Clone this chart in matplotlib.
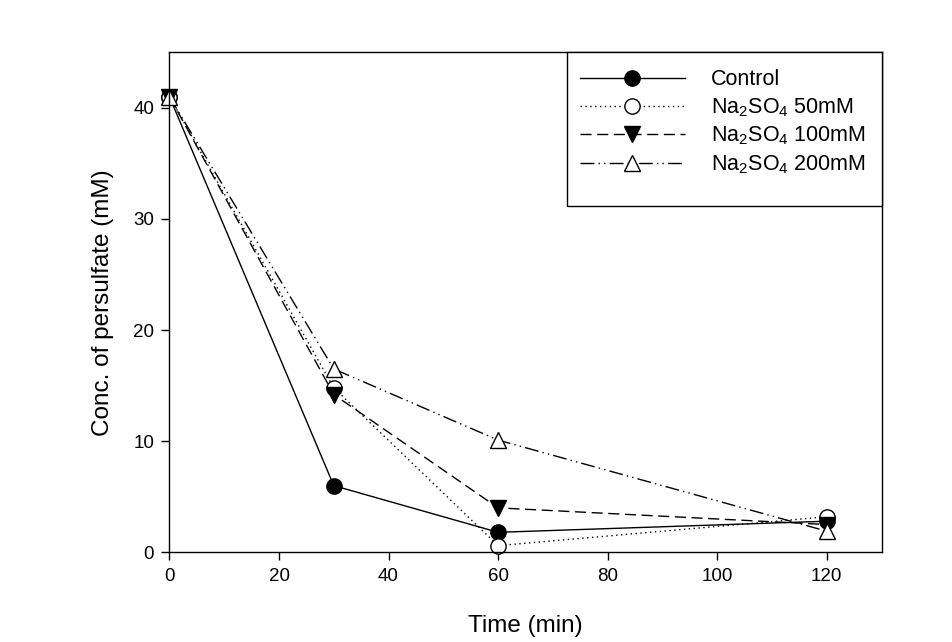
import matplotlib
matplotlib.use("Agg")
import matplotlib.pyplot as plt
from matplotlib.patches import Rectangle

plt.rcParams['font.family'] = ['Liberation Sans', 'DejaVu Sans']
plt.rcParams['mathtext.default'] = 'regular'

# Sampling times (min)
time = [0, 30, 60, 120]

# Persulfate concentration (mM)
control = [41.0, 6.0, 1.8, 2.8]
na2so4_50 = [41.0, 14.8, 0.6, 3.2]
na2so4_100 = [41.0, 14.2, 4.0, 2.5]
na2so4_200 = [41.0, 16.5, 10.1, 1.9]

labels = ['Control', 'Na$_2$SO$_4$ 50mM', 'Na$_2$SO$_4$ 100mM', 'Na$_2$SO$_4$ 200mM']

fig = plt.figure(figsize=(9.52, 6.42), dpi=100)
ax = fig.add_axes([0.178, 0.1397, 0.748, 0.7788])

ms = 11
ax.plot(time, control, color='black', lw=1.0, ls='-', marker='o', ms=ms,
        mfc='black', mec='black', label=labels[0], clip_on=False)
ax.plot(time, na2so4_50, color='black', lw=1.0, ls=(0, (1, 2.5)), marker='o', ms=ms,
        mfc='white', mec='black', label=labels[1], clip_on=False)
ax.plot(time, na2so4_100, color='black', lw=1.0, ls=(0, (8, 4)), marker='v', ms=ms,
        mfc='black', mec='black', label=labels[2], clip_on=False)
ax.plot(time, na2so4_200, color='black', lw=1.0, ls=(0, (10, 3, 1, 3, 1, 3)), marker='^', ms=ms,
        mfc='white', mec='black', label=labels[3], clip_on=False)

ax.set_xlim(0, 130)
ax.set_ylim(0, 45)
ax.set_xticks([0, 20, 40, 60, 80, 100, 120])
ax.set_yticks([0, 10, 20, 30, 40])
ax.tick_params(direction='out', length=6, width=1, labelsize=13.5, pad=5)
for sp in ax.spines.values():
    sp.set_linewidth(1.0)

ax.set_xlabel('Time (min)', fontsize=17.5, labelpad=22)
ax.set_ylabel('Conc. of persulfate (mM)', fontsize=17.5, labelpad=14)

# legend box drawn separately (SigmaPlot style, extra room at bottom/right)
box_x0, box_y0 = 0.558, 0.6926
ax.add_patch(Rectangle((box_x0, box_y0), 1.0 - box_x0, 1.0 - box_y0,
                       transform=ax.transAxes, facecolor='white', edgecolor='black',
                       lw=1.0, zorder=4, clip_on=False))
leg = ax.legend(loc='upper left', bbox_to_anchor=(box_x0, 0.992), borderaxespad=0,
                fontsize=15.5, handlelength=4.9, handletextpad=1.2, labelspacing=0.28,
                borderpad=0.6, frameon=False)
leg.set_zorder(5)

fig.savefig('out.png', dpi=100)
